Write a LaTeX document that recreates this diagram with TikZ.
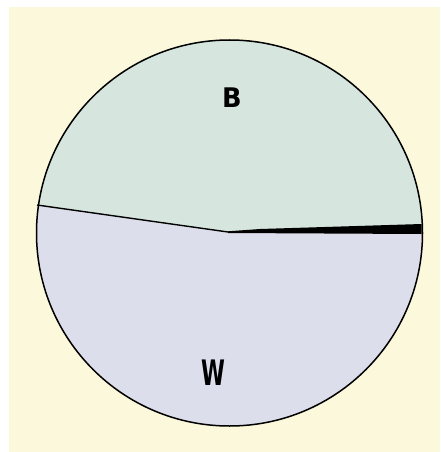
\documentclass[tikz,border=0pt]{standalone}
\usepackage{fontspec}
\setmainfont{DejaVu Sans}
\definecolor{paper}{HTML}{FCF8DC}
\definecolor{topreg}{HTML}{D6E6DE}
\definecolor{botreg}{HTML}{DDDEEC}
\tikzset{
  lbl/.style={font=\bfseries\fontsize{27}{27}\selectfont, inner sep=0pt, text=black},
  rim/.style={draw=black, line width=1.5pt}
}
\begin{document}
\begin{tikzpicture}[x=1pt,y=-1pt]
\useasboundingbox (0,0) rectangle (440,452);
\fill[white] (0,0) rectangle (440,452);
\fill[paper] (9,7) rectangle (440,452);
\coordinate (c) at (229.5,233);
\coordinate (L) at (37,205);
\coordinate (M) at (228,232);
\coordinate (R) at (422,232.5);
\begin{scope}
  \clip (c) circle[radius=193];
  \fill[botreg] (0,0) rectangle (440,452);
  \fill[topreg] (0,0) -- (0,204.7) -- (L) -- (M) -- (R) -- (440,232.5) -- (440,0) -- cycle;
\end{scope}
\draw[black, line width=1.4pt] (L) -- (M);
\fill[black] (228,231.3) -- (260,229) -- (421.5,224) -- (421.5,234) -- (228,233) -- cycle;
\draw[rim] (c) circle[radius=193];
\node[lbl, xscale=0.95] (b) at (232,98) {B};
\node[lbl, xscale=0.8, yscale=1.3] (w) at (213,373) {W};
\end{tikzpicture}
\end{document}
